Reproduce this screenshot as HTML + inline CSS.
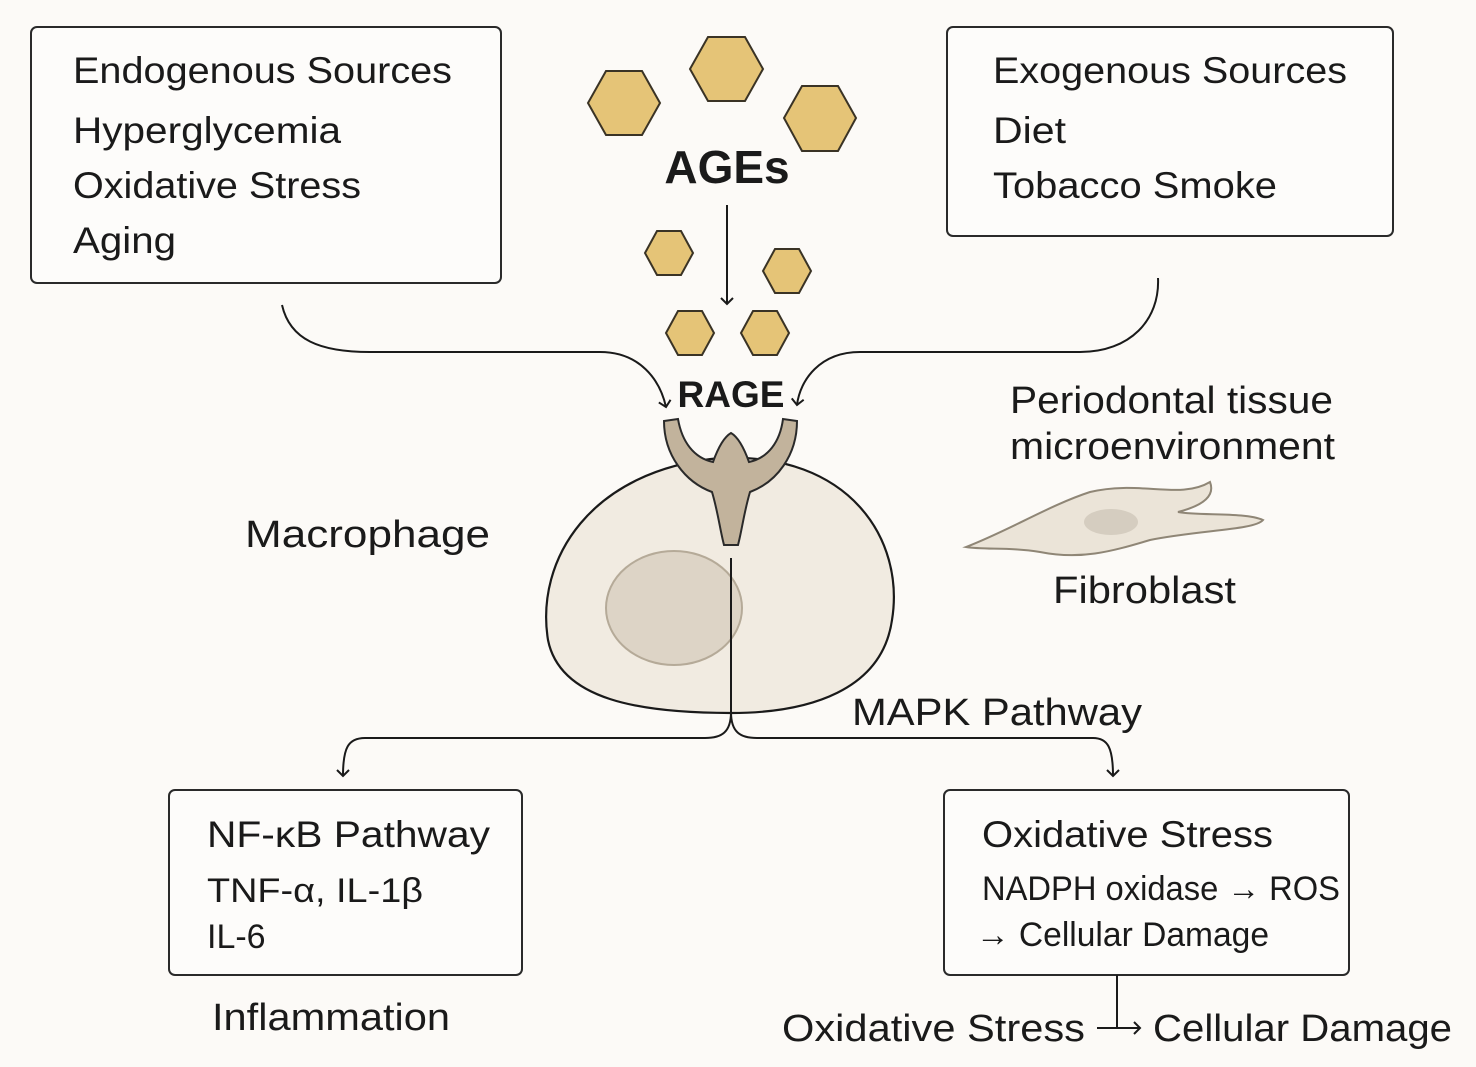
<!DOCTYPE html>
<html><head><meta charset="utf-8"><style>
html,body{margin:0;padding:0;background:#fcfaf7;}
svg{display:block;}
text{font-family:"Liberation Sans","DejaVu Sans",sans-serif;fill:#1a1a1a;}
</style></head><body>
<svg width="1476" height="1067" viewBox="0 0 1476 1067" xmlns="http://www.w3.org/2000/svg">
<defs>
<marker id="ah" markerWidth="14" markerHeight="14" refX="7" refY="7" orient="auto" markerUnits="userSpaceOnUse">
<path d="M1,1 L7,7 L1,13" fill="none" stroke="#1a1a1a" stroke-width="2"/>
</marker>
</defs>
<rect width="1476" height="1067" fill="#fcfaf7"/>

<rect x="31" y="27" width="470" height="256" rx="6" fill="#fdfcfa" stroke="#2a2a2a" stroke-width="2"/>
<rect x="947" y="27" width="446" height="209" rx="6" fill="#fdfcfa" stroke="#2a2a2a" stroke-width="2"/>
<rect x="169" y="790" width="353" height="185" rx="6" fill="#fdfcfa" stroke="#2a2a2a" stroke-width="2"/>
<rect x="944" y="790" width="405" height="185" rx="6" fill="#fdfcfa" stroke="#2a2a2a" stroke-width="2"/>

<g font-size="37">
<text x="73" y="83" textLength="379" lengthAdjust="spacingAndGlyphs">Endogenous Sources</text>
<text x="73" y="143" textLength="268" lengthAdjust="spacingAndGlyphs">Hyperglycemia</text>
<text x="73" y="198" textLength="288" lengthAdjust="spacingAndGlyphs">Oxidative Stress</text>
<text x="73" y="253" textLength="103" lengthAdjust="spacingAndGlyphs">Aging</text>
<text x="993" y="83" textLength="354" lengthAdjust="spacingAndGlyphs">Exogenous Sources</text>
<text x="993" y="143" textLength="73" lengthAdjust="spacingAndGlyphs">Diet</text>
<text x="993" y="198" textLength="284" lengthAdjust="spacingAndGlyphs">Tobacco Smoke</text>
<text x="207" y="847" textLength="283" lengthAdjust="spacingAndGlyphs">NF-κB Pathway</text>
<text x="982" y="847" textLength="291" lengthAdjust="spacingAndGlyphs">Oxidative Stress</text>
</g>
<g font-size="34">
<text x="207" y="902" textLength="216" lengthAdjust="spacingAndGlyphs">TNF-α, IL-1β</text>
<text x="207" y="948">IL-6</text>
<text x="982" y="900" textLength="358" lengthAdjust="spacingAndGlyphs">NADPH oxidase → ROS</text>
<text x="976" y="946" textLength="293" lengthAdjust="spacingAndGlyphs">→ Cellular Damage</text>
</g>
<g font-size="38">
<text x="1010" y="413" textLength="323" lengthAdjust="spacingAndGlyphs">Periodontal tissue</text>
<text x="1010" y="459" textLength="325" lengthAdjust="spacingAndGlyphs">microenvironment</text>
<text x="245" y="547" textLength="245" lengthAdjust="spacingAndGlyphs">Macrophage</text>
<text x="1053" y="603" textLength="183" lengthAdjust="spacingAndGlyphs">Fibroblast</text>
<text x="852" y="725" textLength="290" lengthAdjust="spacingAndGlyphs">MAPK Pathway</text>
<text x="212" y="1030" textLength="238" lengthAdjust="spacingAndGlyphs">Inflammation</text>
<text x="782" y="1041" textLength="303" lengthAdjust="spacingAndGlyphs">Oxidative Stress</text>
<text x="1153" y="1041" textLength="299" lengthAdjust="spacingAndGlyphs">Cellular Damage</text>
</g>
<text x="727" y="183" font-size="46" font-weight="bold" text-anchor="middle">AGEs</text>
<text x="731" y="407" font-size="37" font-weight="bold" text-anchor="middle">RAGE</text>

<g fill="#e5c477" stroke="#3a3325" stroke-width="2">
<polygon points="588,103 606,71 642,71 660,103 642,135 606,135"/>
<polygon points="690,69 708,37 745,37 763,69 745,101 708,101"/>
<polygon points="784,118 802,86 838,86 856,118 838,151 802,151"/>
<polygon points="645,253 657,231 681,231 693,253 681,275 657,275"/>
<polygon points="763,271 775,249 799,249 811,271 799,293 775,293"/>
<polygon points="666,333 678,311 702,311 714,333 702,355 678,355"/>
<polygon points="741,333 753,311 777,311 789,333 777,355 753,355"/>
</g>

<g fill="none" stroke="#1a1a1a" stroke-width="2">
<line x1="727" y1="205" x2="727" y2="304" marker-end="url(#ah)"/>
<path d="M282,305 C290,340 320,352 370,352 L600,352 C640,352 660,380 666,407" marker-end="url(#ah)"/>
<path d="M1158,278 C1160,320 1130,352 1080,352 L860,352 C820,352 800,380 797,405" marker-end="url(#ah)"/>
</g>

<path d="M731,713 C640,713 560,700 548,640 C535,560 590,470 720,458 C850,452 905,540 892,620 C882,690 810,713 731,713 Z" fill="#f1ebe1" stroke="#1a1a1a" stroke-width="2.2"/>
<ellipse cx="674" cy="608" rx="68" ry="57" fill="#ddd4c6" stroke="#b5aa98" stroke-width="2"/>
<path d="M664,421 L678,419 C682,442 694,458 713,462 C718,448 724,437 731,433 C738,437 744,448 749,462 C768,458 780,442 783,419 L797,421 C797,455 777,482 750,492 C744,512 742,530 738,545 L724,545 C720,530 718,512 712,492 C685,482 664,455 664,421 Z" fill="#c2b39c" stroke="#2a2a2a" stroke-width="2"/>

<path d="M966,547 C1010,530 1050,505 1090,492 C1140,480 1180,500 1210,482 C1215,495 1205,505 1178,512 C1200,516 1245,512 1263,520 C1255,530 1200,530 1150,540 C1110,552 1080,560 1040,552 C1010,547 985,550 966,547 Z" fill="#ebe4d8" stroke="#8f8676" stroke-width="2"/>
<ellipse cx="1111" cy="522" rx="27" ry="13" fill="#d5cdc0"/>

<g fill="none" stroke="#1a1a1a" stroke-width="2">
<line x1="731" y1="558" x2="731" y2="712"/>
<path d="M731,712 C731,732 722,738 705,738 L365,738 C348,738 343,748 343,776" marker-end="url(#ah)"/>
<path d="M731,712 C731,732 740,738 757,738 L1093,738 C1108,738 1113,748 1113,776" marker-end="url(#ah)"/>
<line x1="1117" y1="975" x2="1117" y2="1028"/>
<line x1="1097" y1="1028" x2="1140" y2="1028" marker-end="url(#ah)"/>
</g>
</svg>
</body></html>
